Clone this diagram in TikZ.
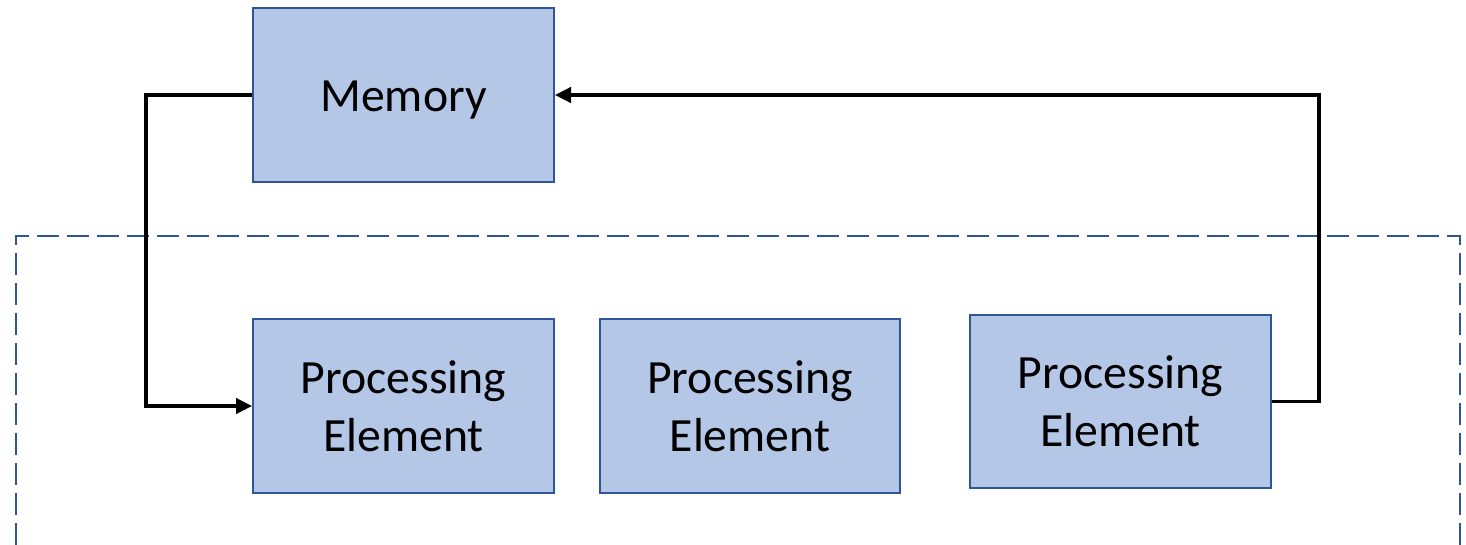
\documentclass[tikz,border=0pt]{standalone}
\usepackage{fontspec}
\setmainfont{Carlito}
\usetikzlibrary{arrows.meta}
\definecolor{boxfill}{HTML}{B4C7E7}
\definecolor{boxline}{HTML}{2F5597}
\tikzset{
  unit/.style={draw=boxline, fill=boxfill, line width=1.5pt,
    minimum width=225.75pt, minimum height=130.5pt, inner sep=0pt,
    align=center, font=\fontsize{35.8pt}{43.5pt}\selectfont, text=black},
  link/.style={draw=black, line width=2.5pt,
    -{Triangle[length=12pt,width=11.5pt]}},
  group/.style={draw=boxline, line width=1.9pt, dash pattern=on 16.5pt off 6pt}
}
\begin{document}
\begin{tikzpicture}[x=0.75pt,y=-0.75pt]
  \useasboundingbox (0,0) rectangle (1466,545);
  % array boundary, open at the bottom
  \draw[group] (16,545) -- (16,236) -- (1460,236) -- (1460,545);
  % memory and processing elements
  \node[unit] (mem) at (403.5,95) {\raisebox{-3.5pt}[\height][\depth]{Memory}};
  \node[unit] (pe1) at (403.5,406) {Processing\\Element};
  \node[unit, minimum width=225pt] (pe2) at (750,406) {Processing\\Element};
  \node[unit, minimum height=129.75pt] (pe3) at (1120.5,401.5) {Processing\\Element};
  % data paths
  \coordinate (lbend) at (146,95);
  \coordinate (rbend) at (1319,401.5);
  \draw[link] (mem.west) -- (lbend) |- (pe1.west);
  \draw[link] (pe3.east) -- (rbend) |- (mem.east);
\end{tikzpicture}
\end{document}
